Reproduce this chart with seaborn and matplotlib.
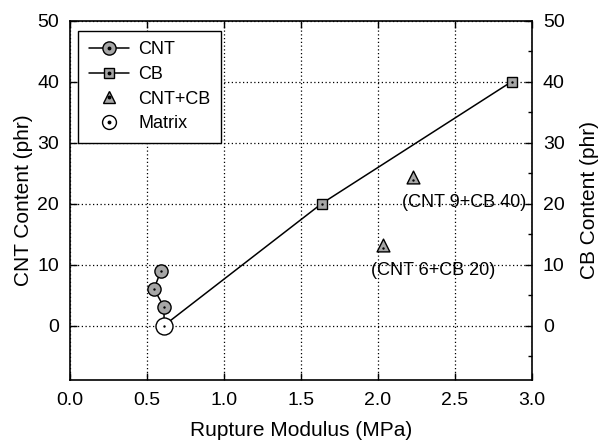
import matplotlib
matplotlib.use("Agg")
import matplotlib.pyplot as plt
from matplotlib.lines import Line2D
from matplotlib.legend_handler import HandlerTuple
from matplotlib.ticker import MultipleLocator
import pandas as pd
import seaborn as sns

# Rupture modulus (MPa) versus filler content (phr)
cnt_modulus = [0.61, 0.61, 0.545, 0.59]
cnt_content = [0, 3, 6, 9]
cb_modulus = [0.61, 1.635, 2.87]
cb_content = [0, 20, 40]
hybrid_modulus = [2.23, 2.03]
hybrid_content = [24.3, 13.2]
hybrid_labels = ["(CNT 9+CB 40)", "(CNT 6+CB 20)"]
matrix_modulus = [0.61]
matrix_content = [0]

sns.set_theme(style="ticks")
plt.rcParams["font.family"] = ["Liberation Sans", "DejaVu Sans"]
plt.rcParams.update({"text.color": "black", "axes.labelcolor": "black",
                     "xtick.color": "black", "ytick.color": "black"})

fig = plt.figure(figsize=(6.05, 4.47), dpi=100)
ax = fig.add_axes([0.116, 0.149, 0.763, 0.805])

cnt_df = pd.DataFrame({"x": cnt_modulus, "y": cnt_content})
cb_df = pd.DataFrame({"x": cb_modulus, "y": cb_content})
hy_df = pd.DataFrame({"x": hybrid_modulus, "y": hybrid_content})
mx_df = pd.DataFrame({"x": matrix_modulus, "y": matrix_content})

grey = "#a6a6a6"
sns.lineplot(data=cnt_df, x="x", y="y", sort=False, estimator=None,
             color="black", lw=1.1, marker="o", markersize=9.5,
             markerfacecolor=grey, markeredgecolor="black",
             markeredgewidth=1.0, ax=ax, zorder=3)
sns.lineplot(data=cb_df, x="x", y="y", sort=False, estimator=None,
             color="black", lw=1.1, marker="s", markersize=7,
             markerfacecolor=grey, markeredgecolor="black",
             markeredgewidth=1.0, ax=ax, zorder=3)
sns.scatterplot(data=hy_df, x="x", y="y", marker="^", s=85, color=grey,
                edgecolor="black", linewidth=1.0, ax=ax, zorder=4)
sns.scatterplot(data=mx_df, x="x", y="y", marker="o", s=150, color="white",
                edgecolor="black", linewidth=1.0, ax=ax, zorder=5)

# centre dots inside every marker
dots = pd.concat([cnt_df.iloc[1:], cb_df.iloc[1:], hy_df, mx_df])
dot_shift = [0, 0, 0, 0, 0, 0.5, 0.5, 0]
ax.scatter(dots["x"], dots["y"] - dot_shift, s=3,
           color="black", zorder=6, linewidths=0)

for xv, yv, lab in zip(hybrid_modulus, hybrid_content, hybrid_labels):
    ax.text(xv - 0.073, yv - 4.1, lab, fontsize=13, ha="left",
            va="center", zorder=7)

ax.set_xlim(0, 3)
ax.set_ylim(-9, 50)
ax.set_xticks([0, 0.5, 1.0, 1.5, 2.0, 2.5, 3.0])
ax.set_xticklabels(["0.0", "0.5", "1.0", "1.5", "2.0", "2.5", "3.0"])
ax.set_yticks([0, 10, 20, 30, 40, 50])
ax.grid(True, linestyle=(0, (1, 2)), color="black", linewidth=0.9)
ax.set_axisbelow(True)
ax.tick_params(direction="in", length=5, width=1, labelsize=14, top=True,
               colors="black", pad=8)
for sp in ax.spines.values():
    sp.set_color("black")
    sp.set_linewidth(1.2)
ax.set_xlabel("Rupture Modulus (MPa)", fontsize=15, labelpad=9)
ax.set_ylabel("CNT Content (phr)", fontsize=15, labelpad=3)

ax2 = ax.twinx()
ax2.set_ylim(-9, 50)
ax2.set_yticks([0, 10, 20, 30, 40, 50])
ax2.yaxis.set_minor_locator(MultipleLocator(5))
ax2.tick_params(which="major", direction="in", length=5, width=1,
                labelsize=14, colors="black", pad=8)
ax2.tick_params(which="minor", direction="in", length=3, width=1)
ax2.set_ylabel("CB Content (phr)", fontsize=15, labelpad=11)
for sp in ax2.spines.values():
    sp.set_visible(False)

def dot():
    return Line2D([], [], ls="none", marker="o", markersize=1.8,
                  color="black")

h_cnt = (Line2D([], [], color="black", lw=1.1, marker="o", markersize=9.5,
                markerfacecolor=grey, markeredgecolor="black"), dot())
h_cb = (Line2D([], [], color="black", lw=1.1, marker="s", markersize=7,
               markerfacecolor=grey, markeredgecolor="black"), dot())
h_hy = (Line2D([], [], ls="none", marker="^", markersize=8.5,
               markerfacecolor=grey, markeredgecolor="black"), dot())
h_mx = (Line2D([], [], ls="none", marker="o", markersize=10,
               markerfacecolor="white", markeredgecolor="black"), dot())
leg = ax.legend([h_cnt, h_cb, h_hy, h_mx], ["CNT", "CB", "CNT+CB", "Matrix"],
                handler_map={tuple: HandlerTuple(ndivide=1)},
                loc="upper left", bbox_to_anchor=(0.018, 0.972),
                fontsize=13, frameon=True, fancybox=False, framealpha=1,
                edgecolor="black", handlelength=2.2, borderaxespad=0,
                labelspacing=0.42, handletextpad=0.5, borderpad=0.6)
leg.get_frame().set_linewidth(1.0)
leg.set_zorder(10)

fig.savefig("out.png", dpi=100)
